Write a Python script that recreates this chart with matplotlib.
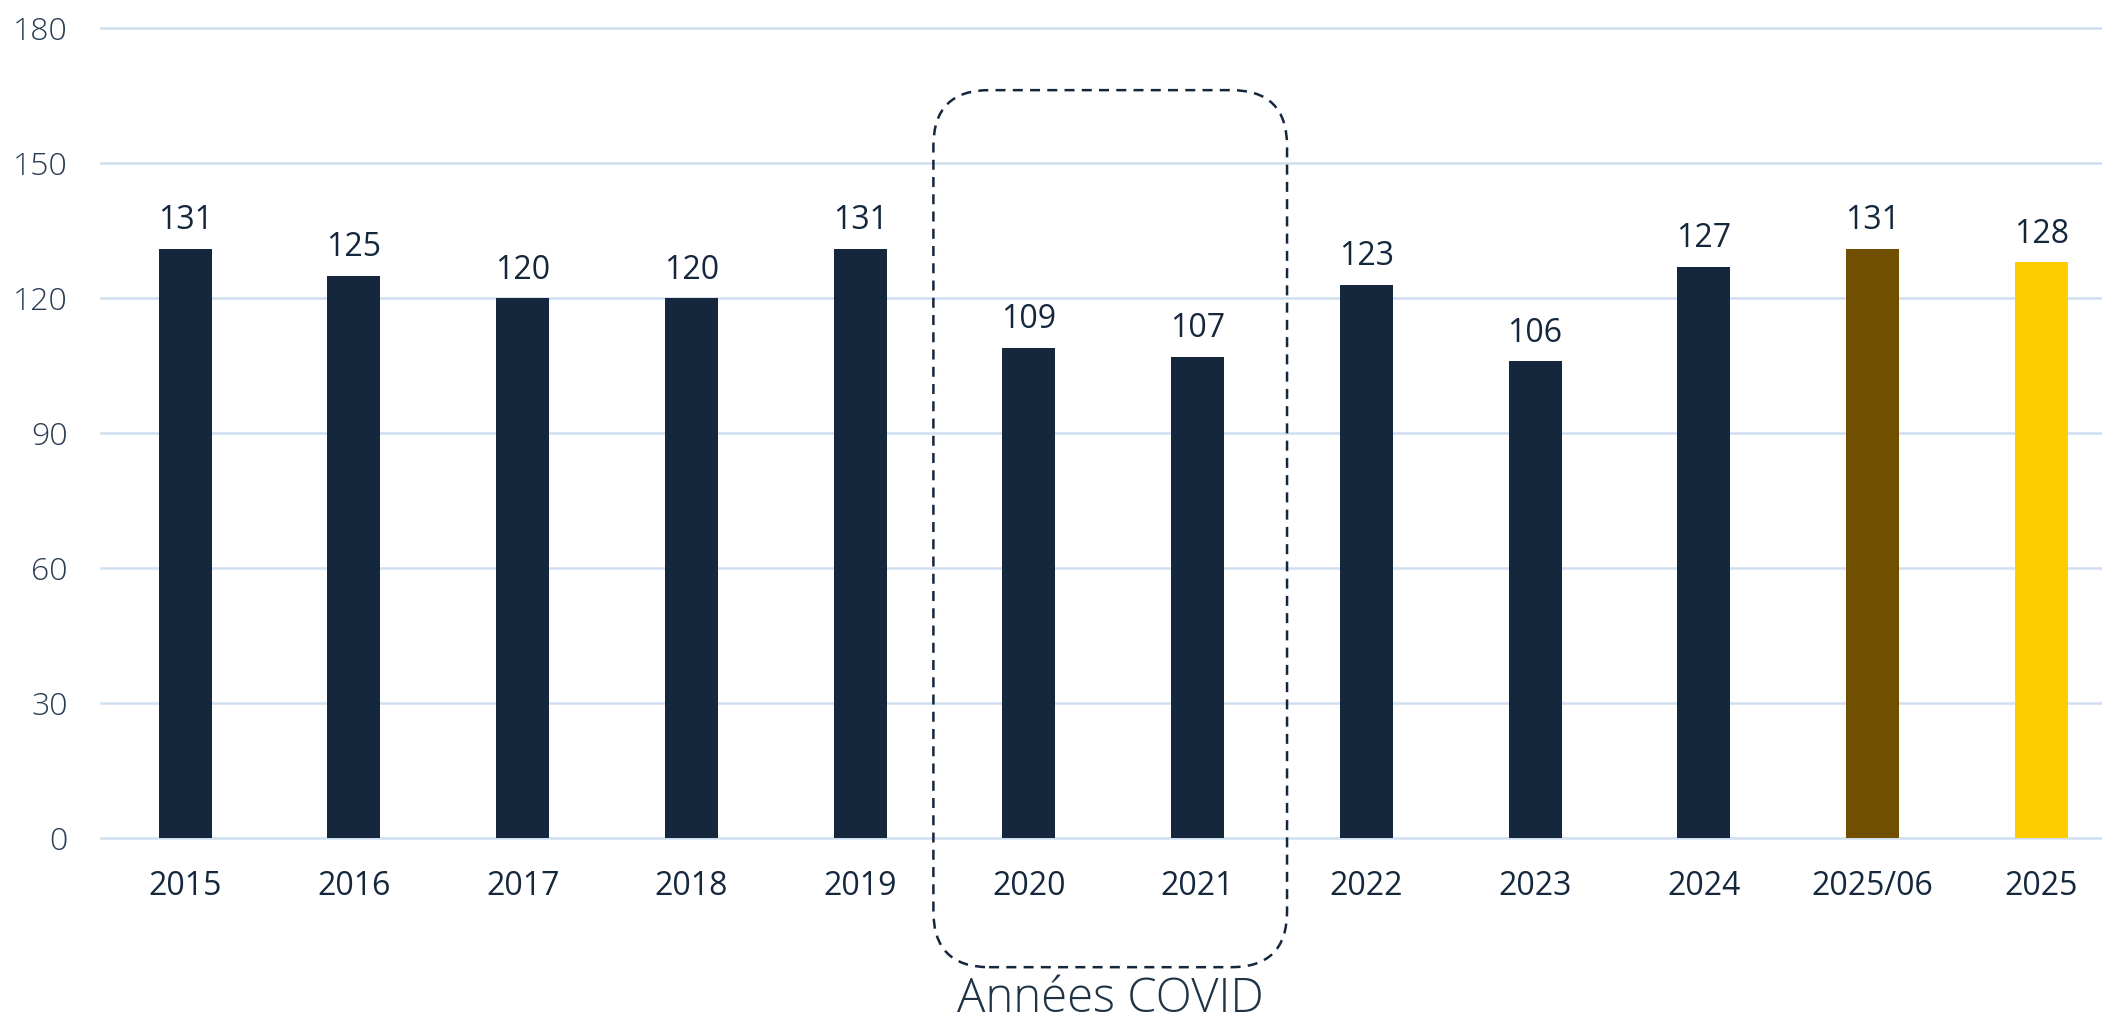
import numpy as np
import matplotlib
matplotlib.use("Agg")
import matplotlib.pyplot as plt
from matplotlib.patches import FancyBboxPatch

years = ["2015", "2016", "2017", "2018", "2019", "2020", "2021",
         "2022", "2023", "2024", "2025/06", "2025"]
values = [131, 125, 120, 120, 131, 109, 107, 123, 106, 127, 131, 128]
navy = "#14273d"
colors = [navy] * 10 + ["#705000", "#ffcc00"]
yticks = [0, 30, 60, 90, 120, 150, 180]
covid = ["2020", "2021"]
covid_label = "Années COVID"

plt.rcParams['font.family'] = ['Open Sans', 'DejaVu Sans']
text_col = "#14273d"

fig = plt.figure(figsize=(21.02, 10.27), dpi=100)
ax = fig.add_axes([0.048, 0.184, 0.952, 0.7887])

x = np.arange(len(years))
bars = ax.bar(x, values, width=0.314, color=colors, zorder=3)
for xi, v in zip(x, values):
    ax.annotate(str(v), (xi, v), xytext=(0, 8), textcoords="offset points",
                ha="center", va="bottom", fontsize=23, color=text_col)

ax.set_xlim(-0.5, 11.36)
ax.set_ylim(0, 180)
ax.set_yticks(yticks)
ax.set_yticklabels([str(t) for t in yticks], fontsize=23, fontweight="light",
                   color="#2a3d52")
ax.set_xticks(x)
ax.set_xticklabels(years, fontsize=23, color=text_col)
ax.tick_params(axis="both", length=0)
ax.tick_params(axis="y", pad=24)
ax.tick_params(axis="x", pad=23)
for s in ax.spines.values():
    s.set_visible(False)
ax.yaxis.grid(True, color="#cfdff0", linewidth=1.8, zorder=0)
for gl in ax.get_ygridlines():
    gl.set_clip_on(False)

# dashed rounded box around covid years
i0 = years.index(covid[0])
i1 = years.index(covid[-1])
x0, x1 = i0 - 0.566, i1 + 0.53
y0, y1 = -28.7, 166.2
fig.canvas.draw()
px_x = ax.transData.transform((1, 0))[0] - ax.transData.transform((0, 0))[0]
px_y = ax.transData.transform((0, 1))[1] - ax.transData.transform((0, 0))[1]
box = FancyBboxPatch((x0, y0), x1 - x0, y1 - y0,
                     boxstyle="round,pad=0,rounding_size=0.33",
                     mutation_aspect=px_x / px_y,
                     fill=False, edgecolor=navy, linewidth=1.8,
                     linestyle=(0, (4.0, 2.9)), clip_on=False, zorder=4)
ax.add_patch(box)
ax.text((x0 + x1) / 2, -38.6, covid_label, ha="center", va="baseline",
        fontsize=34, fontweight="light", color="#1f3347")

fig.savefig("out.png", dpi=100)
